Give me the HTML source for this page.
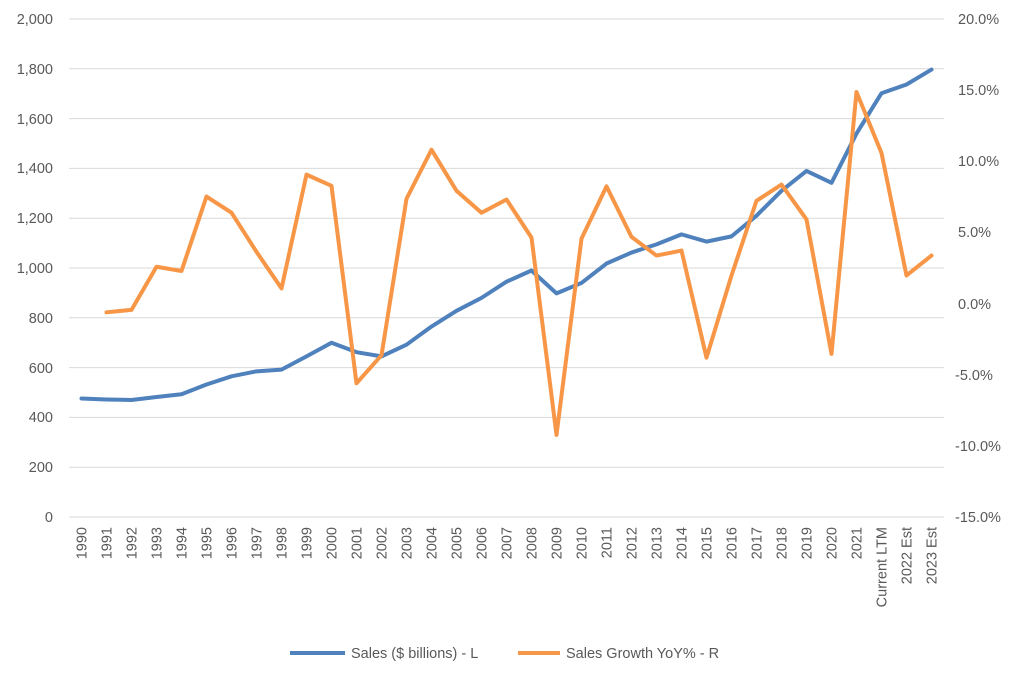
<!DOCTYPE html>
<html><head><meta charset="utf-8"><style>
html,body{margin:0;padding:0;background:#fff}
svg{display:block}
text{font-family:"Liberation Sans",sans-serif;fill:#595959;font-size:14.5px}
</style></head><body>
<svg width="1024" height="678" viewBox="0 0 1024 678" xmlns="http://www.w3.org/2000/svg">
<g stroke="#d9d9d9" stroke-width="1">
<line x1="69" x2="944" y1="19" y2="19"/><line x1="69" x2="944" y1="68.8" y2="68.8"/><line x1="69" x2="944" y1="118.6" y2="118.6"/><line x1="69" x2="944" y1="168.4" y2="168.4"/><line x1="69" x2="944" y1="218.2" y2="218.2"/><line x1="69" x2="944" y1="268" y2="268"/><line x1="69" x2="944" y1="317.8" y2="317.8"/><line x1="69" x2="944" y1="367.6" y2="367.6"/><line x1="69" x2="944" y1="417.4" y2="417.4"/><line x1="69" x2="944" y1="467.2" y2="467.2"/><line x1="69" x2="944" y1="517" y2="517"/>
</g>
<g text-anchor="end">
<text x="53" y="24">2,000</text><text x="53" y="74">1,800</text><text x="53" y="124">1,600</text><text x="53" y="173">1,400</text><text x="53" y="223">1,200</text><text x="53" y="273">1,000</text><text x="53" y="323">800</text><text x="53" y="373">600</text><text x="53" y="422">400</text><text x="53" y="472">200</text><text x="53" y="522">0</text>
</g>
<g text-anchor="start">
<text x="958" y="24">20.0%</text><text x="958" y="95">15.0%</text><text x="958" y="166">10.0%</text><text x="958" y="237">5.0%</text><text x="958" y="309">0.0%</text><text x="955" y="380">-5.0%</text><text x="955" y="451">-10.0%</text><text x="955" y="522">-15.0%</text>
</g>
<g id="xl" text-anchor="end"></g>
<polyline id="blue" fill="none" stroke="#4f81bd" stroke-width="4" stroke-linejoin="round" stroke-linecap="round"/>
<polyline id="orange" fill="none" stroke="#f79646" stroke-width="4" stroke-linejoin="round" stroke-linecap="round"/>
<line x1="290" x2="345" y1="653" y2="653" stroke="#4f81bd" stroke-width="4"/>
<text x="351" y="658">Sales ($ billions) - L</text>
<line x1="518" x2="560" y1="653" y2="653" stroke="#f79646" stroke-width="4"/>
<text x="566" y="658">Sales Growth YoY% - R</text>
</svg>
<script>
var labels=[];for(var y=1990;y<=2021;y++)labels.push(String(y));labels.push("Current LTM","2022 Est","2023 Est");
var ns="http://www.w3.org/2000/svg",g=document.getElementById("xl");
function X(i){return 81.5+25*i}
labels.forEach(function(l,i){var t=document.createElementNS(ns,"text");t.setAttribute("text-anchor","end");t.setAttribute("transform","translate("+(X(i)+5)+",527) rotate(-90)");t.textContent=l;g.appendChild(t)});
var s=[476,472,470,482,493,532,565,585,592,645,700,662,645,692,765,828,880,945,990,898,940,1018,1062,1095,1135,1106,1127,1210,1310,1390,1342,1540,1702,1737,1797];
var o=[null,822,832,1005,988,1287,1222,1065,918,1375,1330,537,650,1278,1475,1310,1222,1275,1122,330,1118,1328,1125,1050,1070,640,970,1270,1335,1195,655,1707,1462,970,1050];
function Y(v){return 517-v*0.249}
document.getElementById("blue").setAttribute("points",s.map(function(v,i){return X(i)+","+Y(v)}).join(" "));
document.getElementById("orange").setAttribute("points",o.map(function(v,i){return v==null?"":X(i)+","+Y(v)}).join(" ").trim());
</script>
</body></html>
